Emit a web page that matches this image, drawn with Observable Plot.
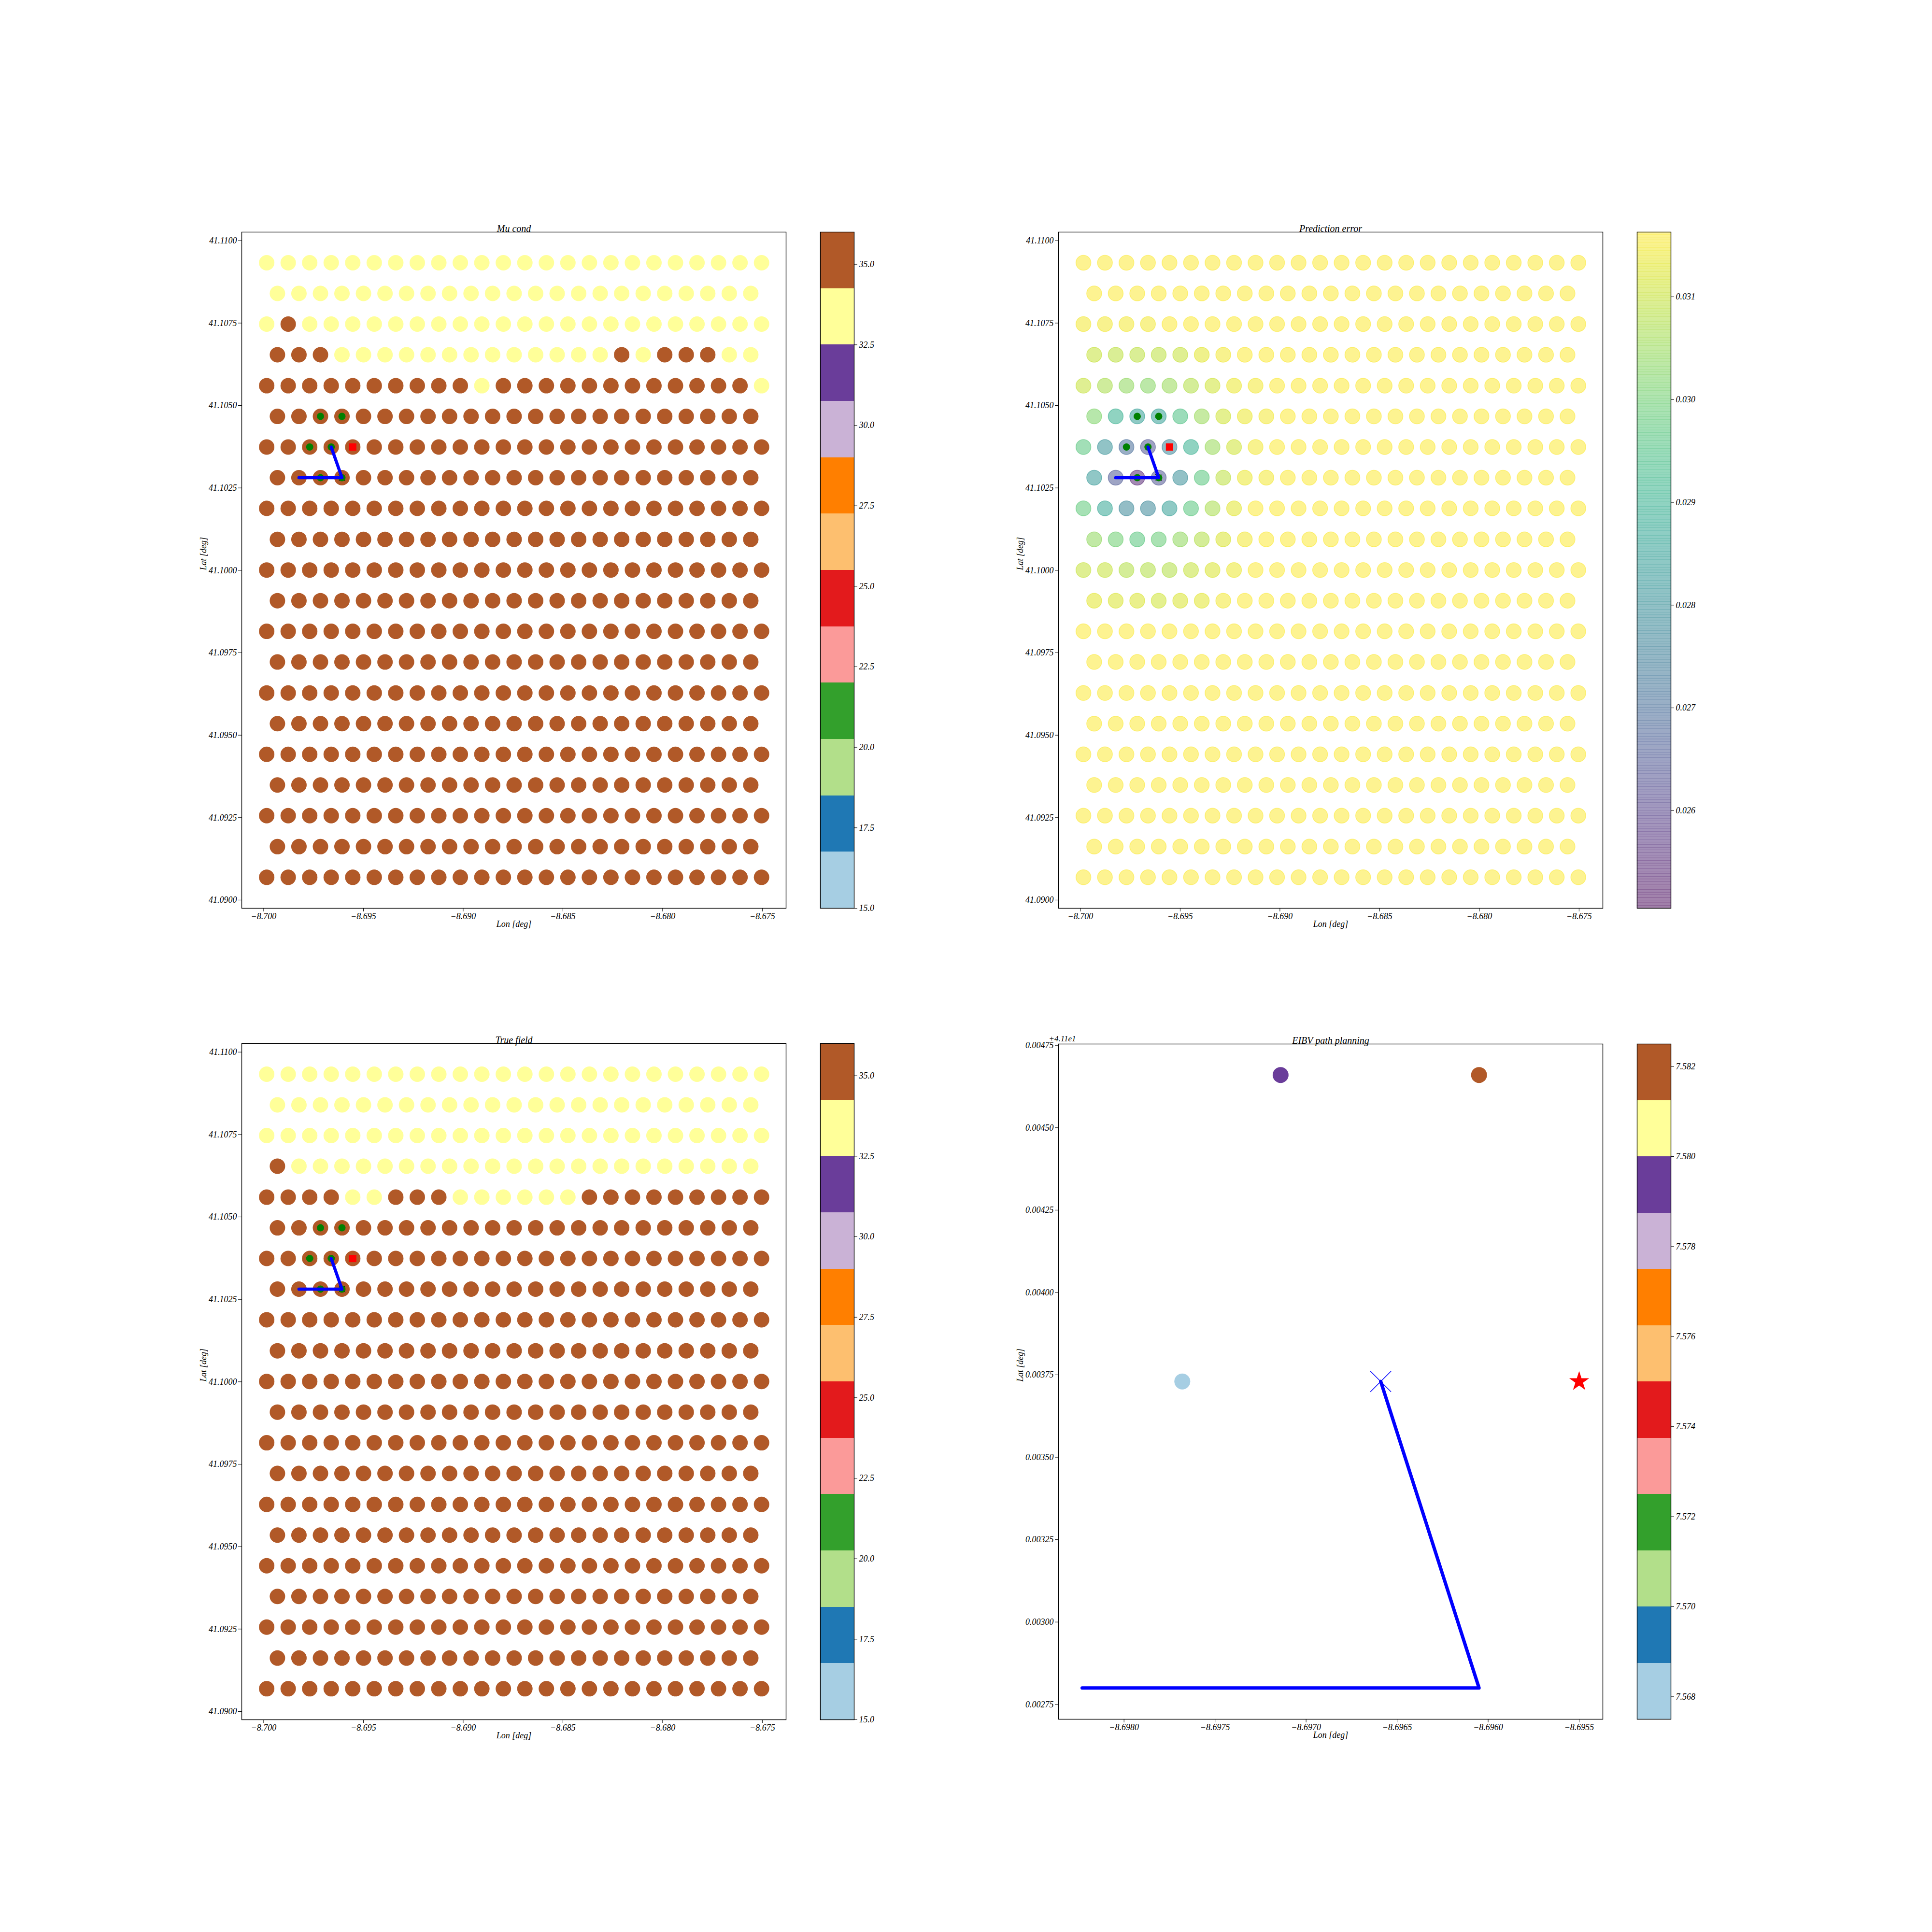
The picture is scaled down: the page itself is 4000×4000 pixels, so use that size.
<!DOCTYPE html>
<html>
<head>
<meta charset="utf-8">
<script src="https://cdn.jsdelivr.net/npm/d3@7"></script>
<script src="https://cdn.jsdelivr.net/npm/@observablehq/plot@0.6"></script>
<style>
html,body{margin:0;padding:0;background:#fff;}
#page{position:relative;width:4000px;height:4000px;background:#fff;overflow:hidden;}
</style>
</head>
<body>
<div id="page"></div>
<script>
// ---------------- DATA ----------------
// grid longitudes for rows with 24 points (even rows) and 23 points (odd rows)
const lonA = [-8.699850,-8.698771,-8.697693,-8.696614,-8.695535,-8.694457,-8.693378,-8.692299,-8.691220,-8.690142,-8.689063,-8.687984,-8.686906,-8.685827,-8.684748,-8.683670,-8.682591,-8.681512,-8.680434,-8.679355,-8.678276,-8.677197,-8.676119,-8.675040];
const lonB = [-8.699311,-8.698232,-8.697153,-8.696075,-8.694996,-8.693917,-8.692839,-8.691760,-8.690681,-8.689603,-8.688524,-8.687445,-8.686366,-8.685288,-8.684209,-8.683130,-8.682052,-8.680973,-8.679894,-8.678816,-8.677737,-8.676658,-8.675580];
// grid latitudes, top row first
const latRows = [41.10933,41.10840,41.10747,41.10654,41.10560,41.10467,41.10374,41.10281,41.10188,41.10094,41.10001,41.09908,41.09815,41.09722,41.09628,41.09535,41.09442,41.09349,41.09256,41.09162,41.09069];

// field classes: Y = yellow bin (~33.4), B = brown bin (~35.1)
const fieldValue = {Y: 33.4, B: 35.1};
const muCond = [
  "YYYYYYYYYYYYYYYYYYYYYYYY",
  "YYYYYYYYYYYYYYYYYYYYYYY",
  "YBYYYYYYYYYYYYYYYYYYYYYY",
  "BBBYYYYYYYYYYYYYBYBBBYY",
  "BBBBBBBBBBYBBBBBBBBBBBBY",
  "BBBBBBBBBBBBBBBBBBBBBBB",
  "BBBBBBBBBBBBBBBBBBBBBBBB",
  "BBBBBBBBBBBBBBBBBBBBBBB",
  "BBBBBBBBBBBBBBBBBBBBBBBB",
  "BBBBBBBBBBBBBBBBBBBBBBB",
  "BBBBBBBBBBBBBBBBBBBBBBBB",
  "BBBBBBBBBBBBBBBBBBBBBBB",
  "BBBBBBBBBBBBBBBBBBBBBBBB",
  "BBBBBBBBBBBBBBBBBBBBBBB",
  "BBBBBBBBBBBBBBBBBBBBBBBB",
  "BBBBBBBBBBBBBBBBBBBBBBB",
  "BBBBBBBBBBBBBBBBBBBBBBBB",
  "BBBBBBBBBBBBBBBBBBBBBBB",
  "BBBBBBBBBBBBBBBBBBBBBBBB",
  "BBBBBBBBBBBBBBBBBBBBBBB",
  "BBBBBBBBBBBBBBBBBBBBBBBB"
];
const trueField = [
  "YYYYYYYYYYYYYYYYYYYYYYYY",
  "YYYYYYYYYYYYYYYYYYYYYYY",
  "YYYYYYYYYYYYYYYYYYYYYYYY",
  "BYYYYYYYYYYYYYYYYYYYYYY",
  "BBBBYYBBBYYYYYYBBBBBBBBB",
  "BBBBBBBBBBBBBBBBBBBBBBB",
  "BBBBBBBBBBBBBBBBBBBBBBBB",
  "BBBBBBBBBBBBBBBBBBBBBBB",
  "BBBBBBBBBBBBBBBBBBBBBBBB",
  "BBBBBBBBBBBBBBBBBBBBBBB",
  "BBBBBBBBBBBBBBBBBBBBBBBB",
  "BBBBBBBBBBBBBBBBBBBBBBB",
  "BBBBBBBBBBBBBBBBBBBBBBBB",
  "BBBBBBBBBBBBBBBBBBBBBBB",
  "BBBBBBBBBBBBBBBBBBBBBBBB",
  "BBBBBBBBBBBBBBBBBBBBBBB",
  "BBBBBBBBBBBBBBBBBBBBBBBB",
  "BBBBBBBBBBBBBBBBBBBBBBB",
  "BBBBBBBBBBBBBBBBBBBBBBBB",
  "BBBBBBBBBBBBBBBBBBBBBBB",
  "BBBBBBBBBBBBBBBBBBBBBBBB"
];
// prediction error per grid cell
const predErr = [
  [0.0316,0.0316,0.0316,0.0316, 0.0316,0.0316,0.0316,0.0316, 0.0316,0.0316,0.0316,0.0316, 0.0316,0.0316,0.0316,0.0316, 0.0316,0.0316,0.0316,0.0316, 0.0316,0.0316,0.0316,0.0316],
  [0.0316,0.0316,0.0316,0.0316, 0.0316,0.0316,0.0316,0.0316, 0.0316,0.0316,0.0316,0.0316, 0.0316,0.0316,0.0316,0.0316, 0.0316,0.0316,0.0316,0.0316, 0.0316,0.0316,0.0316],
  [0.0315,0.0315,0.0315,0.0315, 0.0316,0.0316,0.0316,0.0316, 0.0316,0.0316,0.0316,0.0316, 0.0316,0.0316,0.0316,0.0316, 0.0316,0.0316,0.0316,0.0316, 0.0316,0.0316,0.0316,0.0316],
  [0.0310,0.0309,0.0309,0.0309, 0.0310,0.0313,0.0315,0.0316, 0.0316,0.0316,0.0316,0.0316, 0.0316,0.0316,0.0316,0.0316, 0.0316,0.0316,0.0316,0.0316, 0.0316,0.0316,0.0316],
  [0.0310,0.0307,0.0304,0.0303, 0.0305,0.0308,0.0311,0.0314, 0.0315,0.0316,0.0316,0.0316, 0.0316,0.0316,0.0316,0.0316, 0.0316,0.0316,0.0316,0.0316, 0.0316,0.0316,0.0316,0.0316],
  [0.0302,0.0290,0.0285,0.0285, 0.0295,0.0305,0.0311,0.0314, 0.0315,0.0316,0.0316,0.0316, 0.0316,0.0316,0.0316,0.0316, 0.0316,0.0316,0.0316,0.0316, 0.0316,0.0316,0.0316],
  [0.0297,0.0281,0.0270,0.0264, 0.0277,0.0290,0.0305,0.0311, 0.0315,0.0316,0.0316,0.0316, 0.0316,0.0316,0.0316,0.0316, 0.0316,0.0316,0.0316,0.0316, 0.0316,0.0316,0.0316,0.0316],
  [0.0283,0.0265,0.0254,0.0264, 0.0280,0.0297,0.0309,0.0314, 0.0315,0.0316,0.0316,0.0316, 0.0316,0.0316,0.0316,0.0316, 0.0316,0.0316,0.0316,0.0316, 0.0316,0.0316,0.0316],
  [0.0298,0.0287,0.0278,0.0278, 0.0285,0.0297,0.0307,0.0313, 0.0316,0.0316,0.0316,0.0316, 0.0316,0.0316,0.0316,0.0316, 0.0316,0.0316,0.0316,0.0316, 0.0316,0.0316,0.0316,0.0316],
  [0.0304,0.0300,0.0297,0.0299, 0.0304,0.0308,0.0312,0.0315, 0.0316,0.0316,0.0316,0.0316, 0.0316,0.0316,0.0316,0.0316, 0.0316,0.0316,0.0316,0.0316, 0.0316,0.0316,0.0316],
  [0.0310,0.0310,0.0308,0.0308, 0.0308,0.0310,0.0312,0.0314, 0.0316,0.0316,0.0316,0.0316, 0.0316,0.0316,0.0316,0.0316, 0.0316,0.0316,0.0316,0.0316, 0.0316,0.0316,0.0316,0.0316],
  [0.0313,0.0312,0.0312,0.0311, 0.0312,0.0313,0.0315,0.0316, 0.0316,0.0316,0.0316,0.0316, 0.0316,0.0316,0.0316,0.0316, 0.0316,0.0316,0.0316,0.0316, 0.0316,0.0316,0.0316],
  [0.0316,0.0316,0.0316,0.0316, 0.0316,0.0316,0.0316,0.0316, 0.0316,0.0316,0.0316,0.0316, 0.0316,0.0316,0.0316,0.0316, 0.0316,0.0316,0.0316,0.0316, 0.0316,0.0316,0.0316,0.0316],
  [0.0316,0.0316,0.0316,0.0316, 0.0316,0.0316,0.0316,0.0316, 0.0316,0.0316,0.0316,0.0316, 0.0316,0.0316,0.0316,0.0316, 0.0316,0.0316,0.0316,0.0316, 0.0316,0.0316,0.0316],
  [0.0316,0.0316,0.0316,0.0316, 0.0316,0.0316,0.0316,0.0316, 0.0316,0.0316,0.0316,0.0316, 0.0316,0.0316,0.0316,0.0316, 0.0316,0.0316,0.0316,0.0316, 0.0316,0.0316,0.0316,0.0316],
  [0.0316,0.0316,0.0316,0.0316, 0.0316,0.0316,0.0316,0.0316, 0.0316,0.0316,0.0316,0.0316, 0.0316,0.0316,0.0316,0.0316, 0.0316,0.0316,0.0316,0.0316, 0.0316,0.0316,0.0316],
  [0.0316,0.0316,0.0316,0.0316, 0.0316,0.0316,0.0316,0.0316, 0.0316,0.0316,0.0316,0.0316, 0.0316,0.0316,0.0316,0.0316, 0.0316,0.0316,0.0316,0.0316, 0.0316,0.0316,0.0316,0.0316],
  [0.0316,0.0316,0.0316,0.0316, 0.0316,0.0316,0.0316,0.0316, 0.0316,0.0316,0.0316,0.0316, 0.0316,0.0316,0.0316,0.0316, 0.0316,0.0316,0.0316,0.0316, 0.0316,0.0316,0.0316],
  [0.0316,0.0316,0.0316,0.0316, 0.0316,0.0316,0.0316,0.0316, 0.0316,0.0316,0.0316,0.0316, 0.0316,0.0316,0.0316,0.0316, 0.0316,0.0316,0.0316,0.0316, 0.0316,0.0316,0.0316,0.0316],
  [0.0316,0.0316,0.0316,0.0316, 0.0316,0.0316,0.0316,0.0316, 0.0316,0.0316,0.0316,0.0316, 0.0316,0.0316,0.0316,0.0316, 0.0316,0.0316,0.0316,0.0316, 0.0316,0.0316,0.0316],
  [0.0316,0.0316,0.0316,0.0316, 0.0316,0.0316,0.0316,0.0316, 0.0316,0.0316,0.0316,0.0316, 0.0316,0.0316,0.0316,0.0316, 0.0316,0.0316,0.0316,0.0316, 0.0316,0.0316,0.0316,0.0316]
];

// overlays (row, col) on the grid
const sampledCells = [[5,2],[5,3],[6,2],[6,3],[7,2],[7,3]];
const nextCell = [6,4];
const pathCells = [[7,1],[7,3],[6,3]];
const markCell = [7,3];

// EIBV panel
const eibvLon = [-8.69768, -8.69714, -8.69605];
const eibvLat = [41.10373, 41.10466, 41.10466];
const eibvVal = [7.5675, 7.5795, 7.5825];
const eibvPathLon = [-8.69823, -8.69605, -8.69659];
const eibvPathLat = [41.10280, 41.10280, 41.10373];
const currentLon = -8.69659, currentLat = 41.10373;
const targetLon = -8.69550, targetLat = 41.10373;

// ticks
const lonTicks = [-8.700,-8.695,-8.690,-8.685,-8.680,-8.675];
const latTicks = [41.0900,41.0925,41.0950,41.0975,41.1000,41.1025,41.1050,41.1075,41.1100];
const muTicks = [15.0,17.5,20.0,22.5,25.0,27.5,30.0,32.5,35.0];
const errTicks = [0.026,0.027,0.028,0.029,0.030,0.031];
const eibvLonTicks = [-8.6980,-8.6975,-8.6970,-8.6965,-8.6960,-8.6955];
const eibvLatTicks = [41.10275,41.10300,41.10325,41.10350,41.10375,41.10400,41.10425,41.10450,41.10475];
const eibvTicks = [7.568,7.570,7.572,7.574,7.576,7.578,7.580,7.582];

const paired = ["#a6cee3","#1f78b4","#b2df8a","#33a02c","#fb9a99","#e31a1c","#fdbf6f","#ff7f00","#cab2d6","#6a3d9a","#ffff99","#b15928"];
const muRange = [15, 36];
const errRange = [0.02505, 0.03163];
const eibvRange = [7.5675, 7.5825];

// ---------------- HELPERS ----------------
const cellLon = (r, c) => (r % 2 === 0 ? lonA : lonB)[c];
const cellPt = ([r, c]) => ({lon: cellLon(r, c), lat: latRows[r]});

function fieldCells(rows) {
  const out = [];
  rows.forEach((s, r) => [...s].forEach((ch, c) => out.push({lon: cellLon(r, c), lat: latRows[r], v: fieldValue[ch]})));
  return out;
}
function numCells(rows) {
  const out = [];
  rows.forEach((row, r) => row.forEach((v, c) => out.push({lon: cellLon(r, c), lat: latRows[r], v})));
  return out;
}
function thresholdScale([lo, hi], colors) {
  const step = (hi - lo) / colors.length;
  return {type: "threshold", domain: d3.range(1, colors.length).map(i => lo + i * step), range: colors};
}
function binBands([lo, hi], n) {
  const step = (hi - lo) / n;
  return d3.range(n).map(i => ({y1: lo + i * step, y2: lo + (i + 1) * step, v: lo + (i + 0.5) * step}));
}

const xSymbol = {draw(ctx, size) { const r = Math.sqrt(size / Math.PI); ctx.moveTo(-r, -r); ctx.lineTo(r, r); ctx.moveTo(r, -r); ctx.lineTo(-r, r); }};

const FONT = "'Liberation Serif','Times New Roman',serif";
const baseStyle = {fontFamily: FONT, fontSize: "18px", fontStyle: "italic", color: "black", background: "transparent", overflow: "visible"};
const AW = 1127, ML = 130, MR = 20, MT = 70, MB = 90;
const gridLonDomain = [-8.70110, -8.67381];
const gridLatDomain = [41.08975, 41.11026];

function place(el, left, top) {
  el.style.position = "absolute";
  el.style.left = left + "px";
  el.style.top = top + "px";
  document.getElementById("page").appendChild(el);
}

function labels(title) {
  return [
    Plot.text([title], {text: d => d, frameAnchor: "top", dy: -15, fontSize: 20}),
    Plot.text(["Lon [deg]"], {text: d => d, frameAnchor: "bottom", dy: 38, fontSize: 18}),
    Plot.text(["Lat [deg]"], {text: d => d, frameAnchor: "left", dx: -79, rotate: -90, fontSize: 18})
  ];
}

function gridPanel({title, cells, color, dotOpts, left, top, AH}) {
  const overlay = [
    Plot.dot([cellPt(markCell)], {x: "lon", y: "lat", symbol: xSymbol, r: 7, stroke: "black", strokeWidth: 1, fill: "none"}),
    Plot.dot(sampledCells.map(cellPt), {x: "lon", y: "lat", r: 7.5, fill: "green"}),
    Plot.line(pathCells.map(cellPt), {x: "lon", y: "lat", stroke: "blue", strokeWidth: 6.5}),
    Plot.dot([cellPt(nextCell)], {x: "lon", y: "lat", symbol: "square", r: 8.5, fill: "red"})
  ];
  const el = Plot.plot({
    width: AW + ML + MR, height: AH + MT + MB,
    marginLeft: ML, marginRight: MR, marginTop: MT, marginBottom: MB,
    style: baseStyle,
    x: {domain: gridLonDomain}, y: {domain: gridLatDomain}, color,
    marks: [
      Plot.dot(cells, {x: "lon", y: "lat", fill: "v", r: 16, ...dotOpts}),
      ...overlay,
      Plot.frame({stroke: "black", strokeWidth: 1.4}),
      Plot.axisX({ticks: lonTicks, tickFormat: d3.format(".3f"), tickSize: 7, tickPadding: 3, label: null, fontSize: 18}),
      Plot.axisY({ticks: latTicks, tickFormat: d3.format(".4f"), tickSize: 7, tickPadding: 3, label: null, fontSize: 18}),
      ...labels(title)
    ]
  });
  place(el, left - ML, top - MT);
}

function colorbar({left, top, AH, domain, bands, color, ticks, fmt, rectOpts}) {
  const el = Plot.plot({
    width: 70 + 100, height: AH + 40,
    marginLeft: 0, marginRight: 100, marginTop: 20, marginBottom: 20,
    style: baseStyle,
    x: {domain: [0, 1], axis: null}, y: {domain}, color,
    marks: [
      Plot.rect(bands, {x1: () => 0, x2: () => 1, y1: "y1", y2: "y2", fill: "v", shapeRendering: "crispEdges", ...rectOpts}),
      Plot.frame({stroke: "black", strokeWidth: 1.4}),
      Plot.axisY({anchor: "right", ticks, tickFormat: fmt, tickSize: 6, tickPadding: 4, label: null, fontSize: 18})
    ]
  });
  place(el, left, top - 20);
}

// ---------------- PANELS ----------------
const muColor = thresholdScale(muRange, paired);
const errColor = {type: "linear", scheme: "viridis", domain: errRange};
const eibvColor = thresholdScale(eibvRange, paired);

gridPanel({title: "Mu cond", cells: fieldCells(muCond), color: muColor, dotOpts: {}, left: 500, top: 480, AH: 1400});
colorbar({left: 1698, top: 480, AH: 1400, domain: muRange, bands: binBands(muRange, 12), color: muColor, ticks: muTicks, fmt: d3.format(".1f"), rectOpts: {}});

gridPanel({title: "Prediction error", cells: numCells(predErr), color: errColor,
  dotOpts: {r: 15.5, fillOpacity: 0.5, stroke: "v", strokeOpacity: 0.5, strokeWidth: 1.5}, left: 2191, top: 480, AH: 1400});
colorbar({left: 3389, top: 480, AH: 1400, domain: errRange, bands: binBands(errRange, 256), color: errColor, ticks: errTicks, fmt: d3.format(".3f"),
  rectOpts: {fillOpacity: 0.5, stroke: "v", strokeOpacity: 0.3, strokeWidth: 0.6, shapeRendering: "auto"}});

gridPanel({title: "True field", cells: fieldCells(trueField), color: muColor, dotOpts: {}, left: 500, top: 2160, AH: 1400});
colorbar({left: 1698, top: 2160, AH: 1400, domain: muRange, bands: binBands(muRange, 12), color: muColor, ticks: muTicks, fmt: d3.format(".1f"), rectOpts: {}});

// EIBV panel
(function () {
  const AH = 1398, left = 2191, top = 2161;
  const cands = eibvVal.map((v, i) => ({lon: eibvLon[i], lat: eibvLat[i], v}));
  const path = eibvPathLon.map((lon, i) => ({lon, lat: eibvPathLat[i]}));
  const el = Plot.plot({
    width: AW + ML + MR, height: AH + MT + MB,
    marginLeft: ML, marginRight: MR, marginTop: MT, marginBottom: MB,
    style: baseStyle,
    x: {domain: [-8.69836, -8.69537]}, y: {domain: [41.102705, 41.104754]}, color: eibvColor,
    marks: [
      Plot.line(path, {x: "lon", y: "lat", stroke: "blue", strokeWidth: 7}),
      Plot.dot(cands, {x: "lon", y: "lat", fill: "v", r: 16.5}),
      Plot.dot([{lon: currentLon, lat: currentLat}], {x: "lon", y: "lat", symbol: xSymbol, r: 21.5, stroke: "blue", strokeWidth: 1.5, fill: "none"}),
      Plot.dot([{lon: targetLon, lat: targetLat}], {x: "lon", y: "lat", symbol: "star", r: 13, fill: "red"}),
      Plot.frame({stroke: "black", strokeWidth: 1.4}),
      Plot.axisX({ticks: eibvLonTicks, tickFormat: d3.format(".4f"), tickSize: 7, tickPadding: 3, label: null, fontSize: 18}),
      Plot.axisY({ticks: eibvLatTicks, tickFormat: d => (d - 41.1).toFixed(5), tickSize: 7, tickPadding: 3, label: null, fontSize: 18}),
      Plot.text(["+4.11e1"], {text: d => d, frameAnchor: "top-left", dx: -20, dy: -18, textAnchor: "start", fontSize: 17}),
      ...labels("EIBV path planning")
    ]
  });
  place(el, left - ML, top - MT);
  colorbar({left: 3389, top, AH, domain: eibvRange, bands: binBands(eibvRange, 12), color: eibvColor, ticks: eibvTicks, fmt: d3.format(".3f"), rectOpts: {}});
})();
</script>
</body>
</html>
